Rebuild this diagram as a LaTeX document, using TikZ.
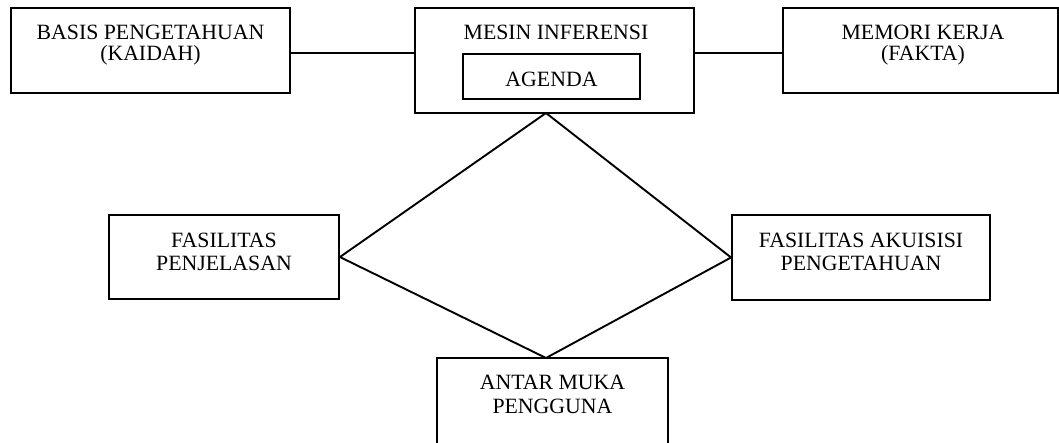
\documentclass[tikz,border=0pt]{standalone}
\usepackage{fontspec}
\setmainfont{Liberation Serif}
\begin{document}
\begin{tikzpicture}[x=1pt,y=-1pt,
  box/.style={draw=black,line width=1.9pt,inner sep=0pt,minimum width=#1},
  lbl/.style={anchor=base,inner sep=0pt,font=\fontsize{21.8}{24}\selectfont},
  wire/.style={draw=black,line width=1.9pt}]
\useasboundingbox (0,0) rectangle (1059,442);
\clip (0,0) rectangle (1059,442);

% frames
\node[box=279pt,minimum height=85pt]  (basis)  at (150.5,50.5) {};
\node[box=279pt,minimum height=105pt] (mesin)  at (554.5,60.5) {};
\node[box=177pt,minimum height=45pt]  (agenda) at (551.5,76.5) {};
\node[box=275pt,minimum height=85pt]  (memori) at (920.5,50.5) {};
\node[box=230pt,minimum height=84pt]  (fp)     at (224,257) {};
\node[box=258pt,minimum height=85pt]  (fa)     at (861,257.5) {};
\node[box=231pt,minimum height=100pt] (am)     at (552.5,408) {};

% labels
\node[lbl] (t1a) at (150.5,39.5) {BASIS PENGETAHUAN};
\node[lbl] (t1b) at (150.5,60.5) {(KAIDAH)};
\node[lbl] (t2)  at (556,39.5) {MESIN INFERENSI};
\node[lbl] (t3)  at (551.5,86) {AGENDA};
\node[lbl] (t4a) at (923,39.5) {MEMORI KERJA};
\node[lbl] (t4b) at (923,60.5) {(FAKTA)};
\node[lbl] (t5a) at (224,247) {FASILITAS};
\node[lbl] (t5b) at (224,270) {PENJELASAN};
\node[lbl] (t6a) at (861,247) {FASILITAS AKUISISI};
\node[lbl] (t6b) at (861,270) {PENGETAHUAN};
\node[lbl] (t7a) at (552.5,389) {ANTAR MUKA};
\node[lbl] (t7b) at (552.5,413.5) {PENGGUNA};

% horizontal links
\draw[wire] ([yshift=-2.5pt]basis.east) coordinate (l1) -- (l1 -| mesin.west);
\draw[wire] ([yshift=7.5pt]mesin.east) coordinate (l2) -- (l2 -| memori.west);

% diamond
\coordinate (dtop) at (546,113);
\coordinate (dbot) at (546,358);
\draw[wire,line join=miter] (dtop) -- (fp.east) -- (dbot) -- (fa.west) -- cycle;
\end{tikzpicture}
\end{document}
